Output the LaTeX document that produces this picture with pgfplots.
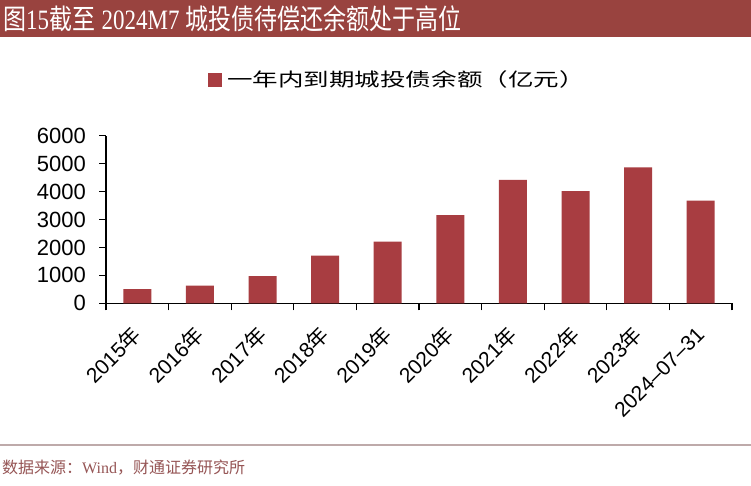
\documentclass[border=0pt]{standalone}
\usepackage{fontspec}
\setmainfont{Liberation Sans}
\newfontfamily\cjk{Noto Sans CJK SC}
\newfontfamily\serif{Liberation Serif}
\usepackage{graphicx}
\usepackage{pgfplots}
\pgfplotsset{compat=1.18}
\definecolor{barred}{RGB}{168,61,65}
\definecolor{titlebg}{RGB}{153,67,63}
\definecolor{srccol}{RGB}{150,85,85}
\definecolor{rulecol}{RGB}{190,170,170}

\begin{document}
\begin{tikzpicture}
\useasboundingbox[fill=white] (0pt,0pt) rectangle (751pt,-485pt);
% title bar
\fill[titlebg] (0pt,0pt) rectangle (751pt,-37pt);
\node[anchor=west, text=white, inner sep=0pt, yscale=1.22,
      font=\fontsize{23}{23}\selectfont] at (3pt,-18.5pt)
  {{\cjk 图}{\serif 15}{\cjk 截至} {\serif 2024M7} {\cjk 城投债待偿还余额处于高位}};

\begin{axis}[
  at={(106pt,-303.3pt)}, anchor=south west,
  scale only axis, width=626pt, height=167.6pt,
  ybar, bar width=28pt,
  xmin=-0.5, xmax=9.5, ymin=0, ymax=6000,
  axis x line*=bottom, axis y line*=left,
  axis line style={black, line width=1.1pt, -},
  every tick/.style={black, line width=1.1pt},
  tick align=outside,
  major tick length=7pt,
  xtick={-0.5,0.5,...,9.5}, xticklabels={},
  extra x ticks={0,...,9},
  extra x tick labels={2015{\cjk 年},2016{\cjk 年},2017{\cjk 年},2018{\cjk 年},2019{\cjk 年},2020{\cjk 年},2021{\cjk 年},2022{\cjk 年},2023{\cjk 年},2024--07--31},
  extra x tick style={major tick length=0pt,
    xticklabel style={rotate=45, anchor=east, inner sep=0pt,
      xshift=-19.5pt, yshift=-19.5pt, font=\fontsize{21}{21}\selectfont}},
  ytick={0,1000,...,6000},
  yticklabel style={font=\fontsize{22}{22}\selectfont, inner sep=0pt, xshift=-13pt},
  /pgf/number format/assume math mode=true,
  /pgf/number format/1000 sep={},
  legend style={at={(0.163,1.335)}, anchor=west, draw=none, fill=none,
    inner sep=0pt, font=\fontsize{18.5}{18.5}\selectfont},
  legend image code/.code={\fill[barred] (0pt,-7pt) rectangle (14pt,7pt);},
]
\addplot[fill=barred, draw=none] coordinates {
  (0,510) (1,630) (2,975) (3,1705) (4,2205)
  (5,3160) (6,4415) (7,4020) (8,4870) (9,3675)
};
\addlegendentry{\hspace{3pt}\scalebox{1.38}[1]{\cjk 一年内到期城投债余额（亿元）}}
\end{axis}

% source
\draw[rulecol, line width=2pt] (0pt,-445pt) -- (751pt,-445pt);
\node[anchor=west, text=srccol, inner sep=0pt,
      font=\fontsize{16}{16}\selectfont] at (2pt,-468pt)
  {{\cjk 数据来源：}{\serif Wind}{\cjk ，财通证券研究所}};
\end{tikzpicture}
\end{document}
